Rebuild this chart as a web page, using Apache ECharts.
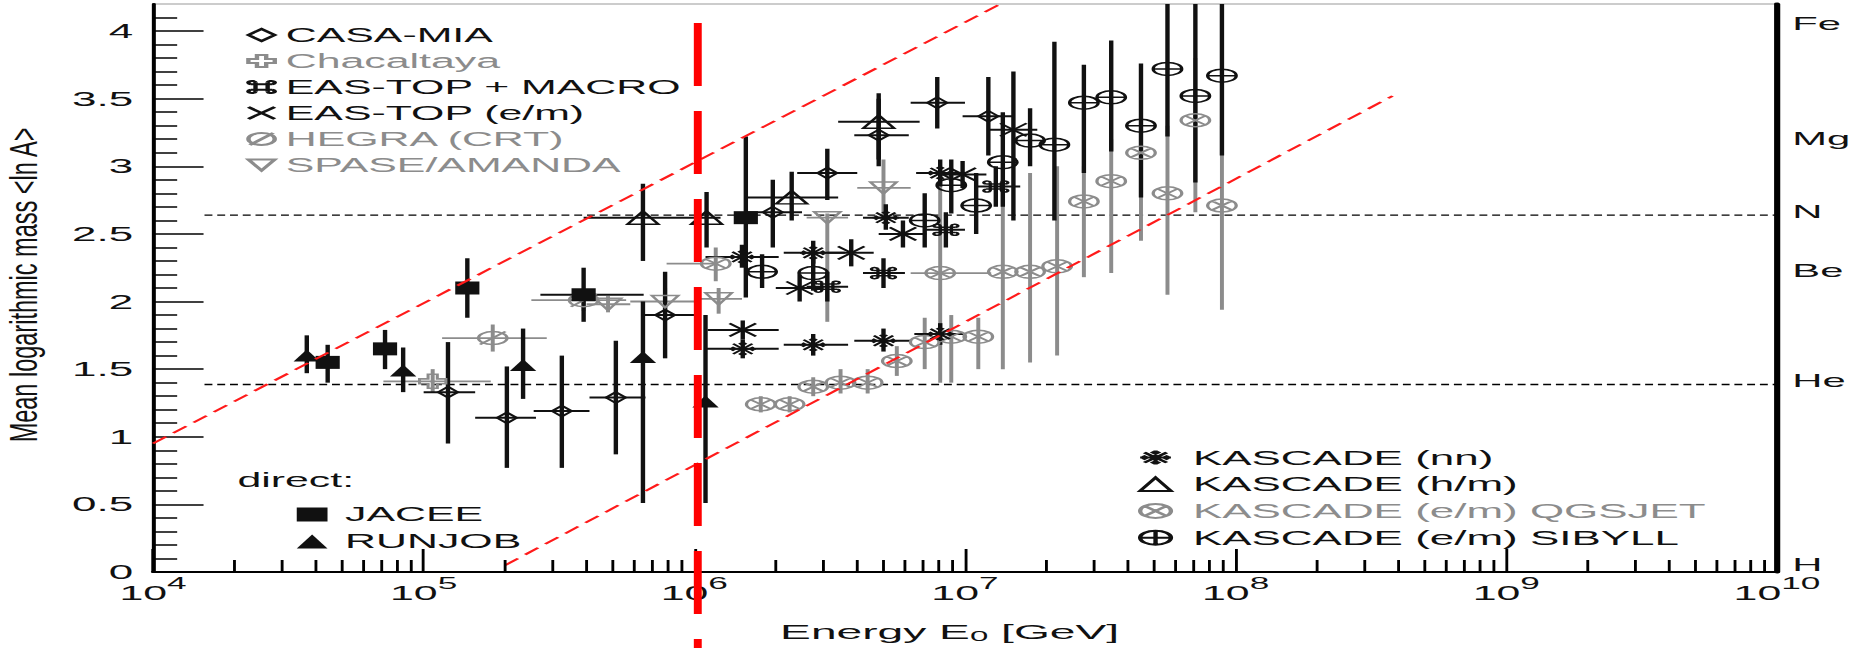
<!DOCTYPE html>
<html>
<head>
<meta charset="utf-8">
<script src="https://cdn.jsdelivr.net/npm/echarts@6/dist/echarts.min.js"></script>
<style>
  html, body { margin: 0; padding: 0; background: #fff; overflow: hidden; width: 1864px; height: 648px; }
  /* the plot is laid out on a narrower canvas and stretched horizontally */
  #chart { width: 848px; height: 648px; transform: scaleX(2.19811); transform-origin: 0 0; }
</style>
</head>
<body>
<div id="chart"></div>
<script>
// ---- data: each row = [energy GeV, <ln A>, energy low, energy high, <ln A> low, <ln A> high]
const CASA_MIA = [
  [1.23e5, 1.33, 1.0e5, 1.55e5, 0.95, 1.70],
  [2.03e5, 1.14, 1.55e5, 2.6e5, 0.77, 1.52],
  [3.24e5, 1.19, 2.55e5, 4.1e5, 0.77, 1.60],
  [5.13e5, 1.29, 4.1e5, 6.6e5, 0.87, 1.71],
  [7.8e5, 1.90, 6.5e5, 1.0e6, 1.58, 2.22],
  [1.95e6, 2.66, 1.55e6, 2.5e6, 2.40, 2.90],
  [3.1e6, 2.95, 2.4e6, 4.0e6, 2.75, 3.13],
  [4.8e6, 3.23, 3.9e6, 6.2e6, 3.00, 3.50],
  [7.9e6, 3.47, 6.3e6, 1.0e7, 3.28, 3.66],
  [1.22e7, 3.37, 9.8e6, 1.5e7, 3.08, 3.66]
];
const CHACALTAYA = [
  [1.08e5, 1.41, 7.1e4, 1.77e5, 1.33, 1.50]
];
const EAS_TOP_MACRO = [
  [3.1e6, 2.11, 2.6e6, 3.7e6, 2.0, 2.22],
  [5.0e6, 2.21, 4.2e6, 6.0e6, 2.1, 2.32],
  [8.5e6, 2.53, 7.0e6, 1.0e7, 2.4, 2.66],
  [1.3e7, 2.85, 1.1e7, 1.6e7, 2.7, 3.0]
];
const EAS_TOP_EM = [
  [1.51e6, 1.79, 1.12e6, 2.05e6, 1.72, 1.86],
  [2.45e6, 2.10, 2.0e6, 3.0e6, 2.0, 2.2],
  [3.8e6, 2.36, 3.1e6, 4.6e6, 2.26, 2.46],
  [5.9e6, 2.50, 4.8e6, 7.2e6, 2.4, 2.6],
  [9.8e6, 2.94, 8.0e6, 1.2e7, 2.84, 3.04],
  [1.51e7, 3.27, 1.23e7, 1.85e7, 2.60, 3.70]
];
const HEGRA = [
  [1.8e5, 1.73, 1.17e5, 2.85e5, 1.63, 1.83],
  [3.9e5, 2.01, 2.5e5, 5.6e5, 1.93, 2.09]
];
const SPASE_AMANDA = [
  [4.8e5, 1.98, 4.0e5, 5.8e5, 1.92, 2.04],
  [7.8e5, 2.00, 5.8e5, 1.0e6, 1.90, 2.10],
  [1.23e6, 2.02, 1.0e6, 1.5e6, 1.91, 2.10],
  [3.1e6, 2.62, 2.6e6, 3.7e6, 1.85, 2.65],
  [5.0e6, 2.84, 4.0e6, 6.3e6, 2.62, 3.05]
];
const KASCADE_NN = [
  [1.51e6, 1.65, 1.1e6, 2.05e6, 1.58, 1.72],
  [2.75e6, 1.68, 2.14e6, 3.7e6, 1.60, 1.76],
  [5.0e6, 1.71, 3.9e6, 6.3e6, 1.63, 1.80],
  [8.1e6, 1.76, 6.5e6, 1.0e7, 1.68, 1.84],
  [1.5e6, 2.33, 1.1e6, 2.05e6, 2.25, 2.42],
  [2.75e6, 2.36, 2.14e6, 3.6e6, 2.28, 2.45],
  [5.1e6, 2.62, 4.2e6, 6.2e6, 2.53, 2.72],
  [8.1e6, 2.95, 6.6e6, 1.0e7, 2.85, 3.05]
];
const KASCADE_HM = [
  [6.46e5, 2.62, 3.9e5, 1.0e6, 2.30, 2.87],
  [1.11e6, 2.62, 1.0e6, 1.25e6, 2.40, 2.81],
  [2.29e6, 2.77, 1.55e6, 3.4e6, 2.60, 2.96],
  [4.8e6, 3.33, 3.4e6, 6.8e6, 3.05, 3.54]
];
const KASCADE_QGSJET = [
  [1.76e6, 1.24, null, null, 1.18, 1.30],
  [2.25e6, 1.24, null, null, 1.18, 1.30],
  [2.75e6, 1.37, null, null, 1.30, 1.44],
  [3.47e6, 1.40, null, null, 1.32, 1.50],
  [4.37e6, 1.40, null, null, 1.32, 1.50],
  [5.6e6, 1.56, null, null, 1.45, 1.67],
  [7.1e6, 1.70, null, null, 1.50, 1.88],
  [8.9e6, 1.74, null, null, 1.40, 1.90],
  [1.12e7, 1.74, null, null, 1.50, 1.88],
  [1.2e6, 2.28, 7.9e5, 1.2e6, 2.15, 2.40],
  [8.1e6, 2.21, 6.3e6, 1.25e7, 1.40, 3.0],
  [1.38e7, 2.22, null, null, 1.50, 2.9],
  [1.74e7, 2.22, null, null, 1.55, 2.95],
  [2.19e7, 2.26, null, null, 1.60, 3.0],
  [2.75e7, 2.74, null, null, 2.18, 3.0],
  [3.47e7, 2.89, null, null, 2.21, 3.2],
  [4.47e7, 3.10, null, null, 2.45, 3.3],
  [5.6e7, 2.80, null, null, 2.05, 3.3],
  [7.1e7, 3.34, null, null, 2.66, 3.8],
  [8.9e7, 2.71, null, null, 1.94, 3.3]
];
const KASCADE_SIBYLL = [
  [1.78e6, 2.22, null, null, 2.10, 2.35],
  [2.75e6, 2.21, null, null, 2.08, 2.34],
  [7.1e6, 2.60, null, null, 2.40, 2.80],
  [8.9e6, 2.86, null, null, 2.65, 3.05],
  [1.1e7, 2.71, null, null, 2.50, 2.95],
  [1.38e7, 3.03, null, null, 2.70, 3.40],
  [1.74e7, 3.19, null, null, 3.00, 3.43],
  [2.14e7, 3.16, null, null, 2.60, 3.92],
  [2.75e7, 3.47, null, null, 2.95, 3.75],
  [3.47e7, 3.51, null, null, 3.11, 3.93],
  [4.47e7, 3.30, null, null, 2.77, 3.76],
  [5.6e7, 3.72, null, null, 3.22, 4.60],
  [7.1e7, 3.52, null, null, 2.88, 4.60],
  [8.9e7, 3.67, null, null, 3.08, 4.60]
];
const JACEE = [
  [4.42e4, 1.55, null, null, 1.40, 1.68],
  [7.2e4, 1.65, null, null, 1.50, 1.79],
  [1.45e5, 2.10, null, null, 1.88, 2.32],
  [3.9e5, 2.05, 2.7e5, 6.5e5, 1.85, 2.25],
  [1.55e6, 2.62, null, null, 2.03, 3.22]
];
const RUNJOB = [
  [3.7e4, 1.60, null, null, 1.47, 1.75],
  [8.4e4, 1.49, null, null, 1.33, 1.66],
  [2.33e5, 1.53, null, null, 1.28, 1.80],
  [6.46e5, 1.59, null, null, 0.51, 2.00],
  [1.1e6, 1.26, null, null, 0.51, 1.90]
];

// reference masses for the right-hand scale
const ELEMENTS = ['H', 'He', 'Be', 'N', 'Mg', 'Fe'];
const MASS_NUMBERS = [1, 4, 9, 14, 24, 56];
// dashed reference levels (N and He), starting energy
const LEVEL_START = 1.55e4;
const LEVEL_MASSES = [14, 4];
// rigidity-scaled band edges: [[E, lnA], [E, lnA]]
const BAND_EDGES = [
  [[1.0e4, 0.95], [1.35e7, 4.2]],
  [[2.0e5, 0.05], [3.8e8, 3.52]]
];
const KNEE_ENERGY = 1.03e6;
const Y_MAJOR = [0, 0.5, 1, 1.5, 2, 2.5, 3, 3.5, 4];
const Y_TITLE = 'Mean logarithmic mass <ln A>';

const GRAY = '#8c8c8c';
const INK = '#111';
const FONT = 'Liberation Sans, Arial, sans-serif';

const xMinor = [];
for (let d = 4; d < 10; d++) for (let m = 2; m <= 9; m++) xMinor.push([m * Math.pow(10, d), 0]);
const yMinor = [];
for (let i = 1; i <= 41; i++) if (i % 5 !== 0) yMinor.push(+(i / 10).toFixed(1));

const SYM = {
  diamond: 'path://M12,2 L22,12 L12,22 L2,12 Z',
  openCross: 'path://M8.5,2 H15.5 V8.5 H22 V15.5 H15.5 V22 H8.5 V15.5 H2 V8.5 H8.5 Z',
  cmd: 'path://M8,5 V19 M16,5 V19 M5,8 H19 M5,16 H19 M8,5 A2.4,2.4 0 1,0 5,8 M16,5 A2.4,2.4 0 1,1 19,8 M8,19 A2.4,2.4 0 1,1 5,16 M16,19 A2.4,2.4 0 1,0 19,16',
  xmark: 'path://M3,3 L21,21 M21,3 L3,21',
  slashCircle: 'path://M3,12 A9,9 0 1,0 21,12 A9,9 0 1,0 3,12 Z M4,21 L20,3',
  downTri: 'path://M2,4 H22 L12,22 Z',
  snow: 'path://M12,1 V23 M1,12 H23 M4,4 L20,20 M20,4 L4,20 M9,3 L12,6 L15,3 M9,21 L12,18 L15,21 M3,9 L6,12 L3,15 M21,9 L18,12 L21,15',
  upTri: 'path://M12,2 L22,21 H2 Z',
  otimes: 'path://M3,12 A9,9 0 1,0 21,12 A9,9 0 1,0 3,12 Z M5.6,5.6 L18.4,18.4 M18.4,5.6 L5.6,18.4',
  oplus: 'path://M3,12 A9,9 0 1,0 21,12 A9,9 0 1,0 3,12 Z M12,3 V21 M3,12 H21'
};

function errorBars(name, rows, color, width, z) {
  return {
    type: 'custom', name: name + ' bars', silent: true, clip: true, z: z,
    data: rows, encode: { x: 0, y: 1 },
    renderItem: function (params, api) {
      const e = api.value(0), v = api.value(1);
      const eLo = api.value(2), eHi = api.value(3), vLo = api.value(4), vHi = api.value(5);
      const c = api.coord([e, v]);
      const kids = [];
      const st = { stroke: color, lineWidth: width };
      if (isFinite(vLo) && isFinite(vHi)) {
        const a = api.coord([e, vLo]), b = api.coord([e, vHi]);
        kids.push({ type: 'line', shape: { x1: c[0], y1: a[1], x2: c[0], y2: b[1] }, style: st });
      }
      if (isFinite(eLo) && isFinite(eHi)) {
        const a = api.coord([eLo, v]), b = api.coord([eHi, v]);
        kids.push({ type: 'line', shape: { x1: a[0], y1: c[1], x2: b[0], y2: c[1] }, style: st });
      }
      return { type: 'group', children: kids };
    }
  };
}

function markers(name, rows, symbol, size, color, filled, z) {
  return {
    type: 'scatter', name: name, silent: true, z: z,
    data: rows.map(r => [r[0], r[1]]),
    symbol: symbol, symbolSize: size,
    itemStyle: filled ? { color: color, opacity: 1 }
                      : { color: 'rgba(0,0,0,0)', borderColor: color, borderWidth: 1.5, opacity: 1 },
    emphasis: { disabled: true }
  };
}

const SETS = [
  // name, rows, symbol, size, color, filled
  ['Chacaltaya', CHACALTAYA, SYM.openCross, [12, 14], GRAY, false],
  ['HEGRA (CRT)', HEGRA, SYM.slashCircle, [13, 13], GRAY, false],
  ['SPASE/AMANDA', SPASE_AMANDA, SYM.downTri, [12, 12], GRAY, false],
  ['KASCADE (e/m) QGSJET', KASCADE_QGSJET, SYM.otimes, [13, 13], GRAY, false],
  ['CASA-MIA', CASA_MIA, SYM.diamond, [9, 11], INK, false],
  ['EAS-TOP + MACRO', EAS_TOP_MACRO, SYM.cmd, [11, 11], INK, false],
  ['EAS-TOP (e/m)', EAS_TOP_EM, SYM.xmark, [12, 13], INK, false],
  ['KASCADE (nn)', KASCADE_NN, SYM.snow, [12, 14], INK, false],
  ['KASCADE (h/m)', KASCADE_HM, SYM.upTri, [14, 13], INK, false],
  ['KASCADE (e/m) SIBYLL', KASCADE_SIBYLL, SYM.oplus, [13, 13], INK, false],
  ['JACEE', JACEE, 'rect', [11, 13], INK, true],
  ['RUNJOB', RUNJOB, 'triangle', [12, 12], INK, true]
];

const series = [];
SETS.forEach((s, i) => {
  const w = s[4] === GRAY ? 1.8 : 2;
  series.push(errorBars(s[0], s[1], s[4], w, 10 + i));
  series.push(markers(s[0], s[1], s[2], s[3], s[4], s[5], 30 + i));
});

// reference levels and band edges
LEVEL_MASSES.forEach(a => {
  series.push({
    type: 'line', silent: true, symbol: 'none', z: 5,
    data: [[LEVEL_START, Math.log(a)], [1e10, Math.log(a)]],
    lineStyle: { color: '#000', width: 1.4, type: [3.6, 2.2] }
  });
});
BAND_EDGES.forEach(seg => {
  series.push({
    type: 'line', silent: true, symbol: 'none', z: 60,
    data: seg,
    lineStyle: { color: '#ff1a1a', width: 1.6, type: [9, 5] }
  });
});
// minor ticks on the energy axis (2..9 per decade)
series.push({
  type: 'custom', silent: true, clip: false, z: 70,
  data: xMinor, encode: { x: 0, y: 1 },
  renderItem: function (params, api) {
    const p = api.coord([api.value(0), 0]);
    return { type: 'line', shape: { x1: p[0], y1: p[1], x2: p[0], y2: p[1] - 12 },
             style: { stroke: '#000', lineWidth: 1.3 } };
  }
});

function legendItems(names) {
  return names.map(n => {
    const s = SETS.find(t => t[0] === n);
    return { name: n, textStyle: { color: s[4] === GRAY ? GRAY : INK } };
  });
}

const option = {
  animation: false,
  backgroundColor: '#fff',
  textStyle: { fontFamily: FONT },
  grid: { left: 69.6, right: 39.6, top: 4, bottom: 76, show: true, borderColor: '#999', borderWidth: 1,
          containLabel: false, outerBoundsMode: 'none' },
  xAxis: {
    type: 'log', logBase: 10, min: 1e4, max: 1e10,
    axisLine: { show: true, lineStyle: { color: '#000', width: 2 } },
    axisTick: { show: true, inside: true, length: 23, lineStyle: { color: '#000', width: 1.3 } },
    splitLine: { show: false },
    minorTick: { show: false },
    axisLabel: {
      margin: 11.3, color: INK, fontFamily: FONT,
      formatter: v => '{b|10}{s|' + Math.round(Math.log10(v)) + '}',
      rich: {
        b: { fontSize: 19.5, fontFamily: FONT, color: INK, lineHeight: 20, verticalAlign: 'bottom' },
        s: { fontSize: 16, fontFamily: FONT, color: INK, lineHeight: 16, verticalAlign: 'bottom', padding: [0, 0, 12, 0] }
      }
    },
    name: 'Energy E{sub|0} [GeV]',
    nameLocation: 'middle', nameGap: 49,
    nameTextStyle: {
      fontSize: 21, lineHeight: 22, color: INK, fontFamily: FONT, padding: [0, 14, 0, 0],
      rich: { sub: { fontSize: 15, lineHeight: 15, color: INK, fontFamily: FONT, verticalAlign: 'bottom', padding: [6, 0, 0, 0] } }
    }
  },
  yAxis: [
    {
      type: 'value', min: 0, max: 4.2, interval: 0.5, position: 'left',
      axisLine: { show: true, lineStyle: { color: '#000', width: 1.8 } },
      axisTick: { show: true, inside: true, length: 23, customValues: Y_MAJOR, lineStyle: { color: '#000', width: 1.5 } },
      axisLabel: { show: true, customValues: Y_MAJOR, margin: 9, fontSize: 20, color: INK, fontFamily: FONT,
                   formatter: v => String(v) },
      splitLine: { show: false }
    },
    {
      type: 'value', min: 0, max: 4.2, position: 'right',
      axisLine: { show: true, lineStyle: { color: '#000', width: 2.8 } },
      axisTick: { show: false },
      splitLine: { show: false },
      axisLabel: {
        show: true, customValues: MASS_NUMBERS.map(a => Math.log(a)), margin: 7,
        fontSize: 19, lineHeight: 14, padding: [0, 0, 8, 0], verticalAlign: 'middle',
        color: INK, fontFamily: FONT,
        formatter: v => {
          let best = 0;
          MASS_NUMBERS.forEach((a, i) => { if (Math.abs(Math.log(a) - v) < Math.abs(Math.log(MASS_NUMBERS[best]) - v)) best = i; });
          // the lightest element sits at the axis corner; lift it clear of the energy label
          return best === 0 ? '{low|' + ELEMENTS[best] + '}' : ELEMENTS[best];
        },
        rich: { low: { fontSize: 19, lineHeight: 14, fontFamily: FONT, color: INK, padding: [0, 0, 6, 0] } }
      }
    },
    {
      type: 'value', min: 0, max: 4.2, position: 'left',
      axisLine: { show: false }, axisLabel: { show: false }, splitLine: { show: false },
      axisTick: { show: true, inside: true, length: 11, customValues: yMinor, lineStyle: { color: '#000', width: 1.5 } }
    }
  ],
  legend: [
    {
      orient: 'vertical', left: 107, top: 17, itemWidth: 12, itemHeight: 12, itemGap: 0,
      selectedMode: false, textStyle: { fontSize: 19.5, fontFamily: FONT, lineHeight: 26, color: INK },
      data: legendItems(['CASA-MIA', 'Chacaltaya', 'EAS-TOP + MACRO', 'EAS-TOP (e/m)', 'HEGRA (CRT)', 'SPASE/AMANDA'])
    },
    {
      orient: 'vertical', left: 130, top: 496, itemWidth: 14, itemHeight: 14, itemGap: 0,
      selectedMode: false, textStyle: { fontSize: 19.5, fontFamily: FONT, lineHeight: 27, color: INK, padding: [0, 0, 0, 3] },
      data: legendItems(['JACEE', 'RUNJOB'])
    },
    {
      orient: 'vertical', left: 512.7, top: 439.2, itemWidth: 14, itemHeight: 14, itemGap: 0,
      selectedMode: false, textStyle: { fontSize: 20, fontFamily: FONT, lineHeight: 26.7, color: INK, padding: [0, 0, 0, 5] },
      data: legendItems(['KASCADE (nn)', 'KASCADE (h/m)', 'KASCADE (e/m) QGSJET', 'KASCADE (e/m) SIBYLL'])
    }
  ],
  series: series
};

const chart = echarts.init(document.getElementById('chart'), null, { renderer: 'svg' });
chart.setOption(option);

// knee position marker, axis title and the "direct:" caption
const kneeX = chart.convertToPixel({ xAxisIndex: 0 }, KNEE_ENERGY);
chart.setOption({
  graphic: [
    { type: 'line', silent: true, z: 100,
      shape: { x1: kneeX, y1: 23, x2: kneeX, y2: 648 },
      style: { stroke: '#ff0000', lineWidth: 3.6, lineDash: [63, 25] } },
    { type: 'text', silent: true, z: 50, x: 10.7, y: 285, rotation: Math.PI / 2, scaleY: 0.75,
      style: { text: Y_TITLE, fontSize: 23.5, fontFamily: FONT, fill: INK, align: 'center', verticalAlign: 'middle' } },
    { type: 'text', silent: true, z: 50, left: 108, top: 470,
      style: { text: 'direct:', fontSize: 19.5, fontFamily: FONT, fill: INK } }
  ]
});
</script>
</body>
</html>
